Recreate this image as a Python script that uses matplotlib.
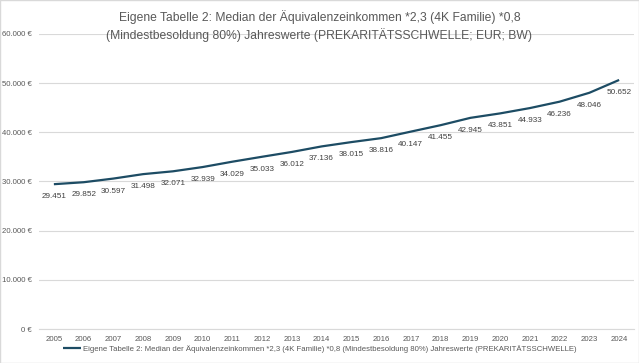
import matplotlib
matplotlib.use("Agg")
import matplotlib.pyplot as plt
from matplotlib.ticker import FuncFormatter

years = [str(y) for y in range(2005, 2025)]
values = [29451, 29852, 30597, 31498, 32071, 32939, 34029, 35033, 36012, 37136,
          38015, 38816, 40147, 41455, 42945, 43851, 44933, 46236, 48046, 50652]
title = ("Eigene Tabelle 2: Median der Äquivalenzeinkommen *2,3 (4K Familie) *0,8\n"
         "(Mindestbesoldung 80%) Jahreswerte (PREKARITÄTSSCHWELLE; EUR; BW)")
legend_label = ("Eigene Tabelle 2: Median der Äquivalenzeinkommen *2,3 (4K Familie) *0,8 "
                "(Mindestbesoldung 80%) Jahreswerte (PREKARITÄTSSCHWELLE)")

font = "Liberation Sans"

def fmt_num(v):
    return f"{v:,.0f}".replace(",", ".")

fig = plt.figure(figsize=(6.39, 3.63), dpi=100)
ax = fig.add_axes([39/639, 1 - 329/363, (634-39)/639, (329-34)/363])

x = list(range(len(years)))
color = "#1d4c64"
ax.plot(x, values, color=color, lw=1.6, solid_capstyle="butt", label=legend_label)
for xi, v in zip(x, values):
    ax.annotate(fmt_num(v), (xi, v), xytext=(0, -9), textcoords="offset points",
                ha="center", va="center", fontsize=5.9, color="#404040",
                family=font)

ax.set_xlim(-0.5, len(years) - 0.5)
ax.set_ylim(0, 60000)
ax.set_yticks(range(0, 60001, 10000))
ax.yaxis.set_major_formatter(FuncFormatter(lambda v, p: f"{fmt_num(v)} €"))
ax.set_xticks(x)
ax.set_xticklabels(years)
ax.grid(axis="y", color="#d9d9d9", lw=0.8)
ax.set_axisbelow(True)
for s in ["top", "right", "left"]:
    ax.spines[s].set_visible(False)
ax.spines["bottom"].set_color("#d9d9d9")
ax.tick_params(axis="both", length=0, labelsize=5.6, labelcolor="#595959")
ax.tick_params(axis="y", pad=5)
ax.tick_params(axis="x", pad=5)
for lab in ax.get_yticklabels() + ax.get_xticklabels():
    lab.set_family(font)

fig.text(0.5, 1 - 26/363, title, ha="center", va="center", fontsize=8.7,
         color="#595959", family=font, linespacing=1.35)

leg = fig.legend(loc="center", bbox_to_anchor=(0.5, 1 - 349/363), frameon=False,
                 handlelength=2.4, handletextpad=0.15,
                 prop={"family": font, "size": 5.6})
for t in leg.get_texts():
    t.set_color("#595959")

fig.patches.append(plt.Rectangle((0, 0), 1, 1, transform=fig.transFigure,
                                 fill=False, ec="#d9d9d9", lw=1.0))
fig.savefig("out.png", dpi=100)
